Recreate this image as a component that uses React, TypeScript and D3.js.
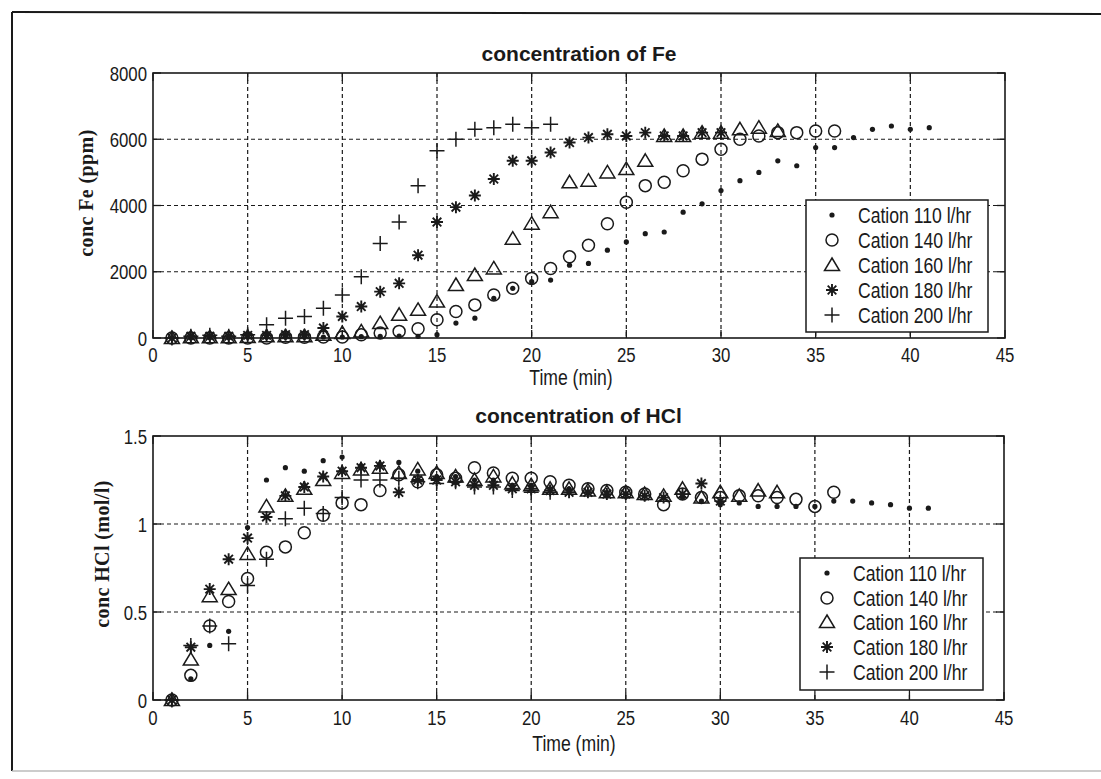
import React from 'react';
import * as d3 from 'd3';

const timeMin = [1, 2, 3, 4, 5, 6, 7, 8, 9, 10, 11, 12, 13, 14, 15, 16, 17, 18, 19, 20, 21, 22, 23, 24, 25, 26, 27, 28, 29, 30, 31, 32, 33, 34, 35, 36, 37, 38, 39, 40, 41];

const seriesNames = ['Cation 110 l/hr', 'Cation 140 l/hr', 'Cation 160 l/hr', 'Cation 180 l/hr', 'Cation 200 l/hr'];
const seriesMarkers = ['dot', 'circle', 'triangle', 'star', 'plus'];

// concentration of Fe (ppm)
const fe110 = [0, 0, 10, 10, 20, 20, 20, 20, 30, 30, 40, 50, 60, 50, 100, 450, 600, 1200, 1500, 1700, 1750, 2200, 2250, 2650, 2900, 3150, 3200, 3800, 4050, 4450, 4750, 5000, 5350, 5200, 5750, 5750, 6050, 6300, 6400, 6300, 6350];
const fe140 = [0, 0, 0, 0, 0, 0, 20, 20, 30, 30, 100, 150, 200, 280, 550, 800, 1000, 1300, 1500, 1800, 2100, 2450, 2800, 3450, 4100, 4600, 4700, 5050, 5400, 5700, 6000, 6100, 6200, 6200, 6250, 6250];
const fe160 = [0, 20, 20, 20, 30, 50, 50, 50, 100, 150, 200, 450, 700, 850, 1100, 1600, 1900, 2100, 3000, 3450, 3800, 4700, 4750, 5000, 5100, 5350, 6100, 6100, 6200, 6200, 6300, 6350, 6250];
const fe180 = [0, 50, 50, 50, 80, 80, 100, 100, 300, 650, 950, 1400, 1650, 2500, 3500, 3950, 4300, 4800, 5350, 5350, 5600, 5900, 6050, 6150, 6100, 6200, 6100, 6100, 6200, 6200];
const fe200 = [0, 50, 80, 50, 100, 400, 600, 650, 900, 1300, 1850, 2850, 3500, 4600, 5650, 6000, 6300, 6350, 6450, 6350, 6450];

// concentration of HCl (mol/l)
const hcl110 = [0, 0.12, 0.31, 0.39, 0.98, 1.25, 1.32, 1.30, 1.36, 1.38, 1.33, 1.33, 1.35, 1.30, 1.27, 1.27, 1.25, 1.25, 1.22, 1.22, 1.20, 1.20, 1.18, 1.18, 1.17, 1.16, 1.15, 1.15, 1.13, 1.11, 1.12, 1.10, 1.10, 1.10, 1.10, 1.13, 1.13, 1.12, 1.11, 1.09, 1.09];
const hcl140 = [0, 0.14, 0.42, 0.56, 0.69, 0.84, 0.87, 0.95, 1.05, 1.12, 1.11, 1.19, 1.28, 1.24, 1.28, 1.26, 1.32, 1.29, 1.26, 1.26, 1.24, 1.22, 1.20, 1.19, 1.18, 1.17, 1.11, 1.17, 1.15, 1.15, 1.16, 1.16, 1.15, 1.14, 1.10, 1.18];
const hcl160 = [0, 0.23, 0.59, 0.63, 0.83, 1.10, 1.16, 1.20, 1.25, 1.29, 1.31, 1.32, 1.29, 1.31, 1.29, 1.27, 1.25, 1.27, 1.23, 1.22, 1.20, 1.20, 1.19, 1.18, 1.18, 1.17, 1.16, 1.20, 1.15, 1.18, 1.16, 1.19, 1.18];
const hcl180 = [0, 0.30, 0.63, 0.80, 0.92, 1.04, 1.16, 1.21, 1.27, 1.30, 1.32, 1.33, 1.18, 1.25, 1.25, 1.24, 1.22, 1.22, 1.20, 1.20, 1.19, 1.18, 1.18, 1.17, 1.17, 1.16, 1.15, 1.17, 1.23, 1.13];
const hcl200 = [0, 0.31, 0.42, 0.32, 0.65, 0.80, 1.03, 1.09, 1.06, 1.15, 1.25, 1.25, 1.26, 1.24, 1.23, 1.24, 1.21, 1.21, 1.19, 1.18, 1.18];

const xTicks = [0, 5, 10, 15, 20, 25, 30, 35, 40, 45];
const feTicks = [0, 2000, 4000, 6000, 8000];
const hclTicks = [0, 0.5, 1, 1.5];

const INK = '#1a1a1a';
const SANS = '"Liberation Sans", Arial, sans-serif';
const NARROW = 0.8;

function NText({ x, y, anchor = 'start', size = 21, dy = '0', children }: { x: number; y: number; anchor?: string; size?: number; dy?: string; children: React.ReactNode }) {
  return (
    <text transform={`translate(${x},${y}) scale(${NARROW},1)`} dy={dy} textAnchor={anchor} fontFamily={SANS} fontSize={size} fill={INK}>
      {children}
    </text>
  );
}

function Marker({ kind, x, y }: { kind: string; x: number; y: number }) {
  const sw = 1.5;
  if (kind === 'dot') return <circle cx={x} cy={y} r={2.6} fill={INK} />;
  if (kind === 'circle') return <circle cx={x} cy={y} r={6} fill="none" stroke={INK} strokeWidth={sw} />;
  if (kind === 'triangle') {
    const p = `M${x},${y - 7} L${x + 7.5},${y + 5.5} L${x - 7.5},${y + 5.5} Z`;
    return <path d={p} fill="none" stroke={INK} strokeWidth={sw} strokeLinejoin="miter" />;
  }
  if (kind === 'star') {
    const s = 6, d = 4.3;
    return (
      <path
        d={`M${x - s},${y} L${x + s},${y} M${x},${y - s} L${x},${y + s} M${x - d},${y - d} L${x + d},${y + d} M${x - d},${y + d} L${x + d},${y - d}`}
        stroke={INK}
        strokeWidth={1.9}
      />
    );
  }
  const s = 7.5;
  return <path d={`M${x - s},${y} L${x + s},${y} M${x},${y - s} L${x},${y + s}`} stroke={INK} strokeWidth={sw} />;
}

type PanelProps = {
  left: number; right: number; top: number; bottom: number;
  yDomain: [number, number]; yTicks: number[]; yFmt: (v: number) => string;
  title: string; titleY: number; yLabel: string; yLabelX: number; yLabelY: number;
  xLabelX: number; xLabelY: number; xTickY: number;
  series: number[][];
  legend: { x: number; y: number; w: number; h: number; markerX: number; textX: number; rows: number[] };
};

function Panel(p: PanelProps) {
  const x = d3.scaleLinear().domain([0, 45]).range([p.left, p.right]);
  const y = d3.scaleLinear().domain(p.yDomain).range([p.bottom, p.top]);
  const tl = 8;
  const cx = (p.left + p.right) / 2;
  return (
    <g>
      <text x={cx} y={p.titleY} textAnchor="middle" fontFamily={SANS} fontWeight="bold" fontSize={21} fill={INK}>{p.title}</text>
      {/* grid */}
      {xTicks.filter((t) => t > 0 && t < 45).map((t) => (
        <line key={'gx' + t} x1={x(t)} x2={x(t)} y1={p.top} y2={p.bottom} stroke={INK} strokeWidth={1.2} strokeDasharray="4,3" />
      ))}
      {p.yTicks.filter((t) => t > p.yDomain[0] && t < p.yDomain[1]).map((t) => (
        <line key={'gy' + t} x1={p.left} x2={p.right} y1={y(t)} y2={y(t)} stroke={INK} strokeWidth={1.2} strokeDasharray="4,3" />
      ))}
      {/* ticks */}
      {xTicks.map((t) => (
        <g key={'tx' + t}>
          <line x1={x(t)} x2={x(t)} y1={p.bottom} y2={p.bottom - tl} stroke={INK} strokeWidth={1.3} />
          <line x1={x(t)} x2={x(t)} y1={p.top} y2={p.top + tl} stroke={INK} strokeWidth={1.3} />
          <NText x={x(t)} y={p.xTickY} anchor="middle">{t}</NText>
        </g>
      ))}
      {p.yTicks.map((t) => (
        <g key={'ty' + t}>
          <line x1={p.left} x2={p.left + tl} y1={y(t)} y2={y(t)} stroke={INK} strokeWidth={1.3} />
          <line x1={p.right} x2={p.right - tl} y1={y(t)} y2={y(t)} stroke={INK} strokeWidth={1.3} />
          <NText x={p.left - 6} y={y(t)} dy="0.36em" anchor="end">{p.yFmt(t)}</NText>
        </g>
      ))}
      <rect x={p.left} y={p.top} width={p.right - p.left} height={p.bottom - p.top} fill="none" stroke={INK} strokeWidth={1.6} />
      {/* data */}
      {p.series.map((vals, si) => (
        <g key={'s' + si}>
          {vals.map((v, i) => (
            <Marker key={i} kind={seriesMarkers[si]} x={x(timeMin[i])} y={y(v)} />
          ))}
        </g>
      ))}
      {/* legend */}
      <rect x={p.legend.x} y={p.legend.y} width={p.legend.w} height={p.legend.h} fill="#fff" stroke={INK} strokeWidth={1.5} />
      {seriesNames.map((n, i) => (
        <g key={'l' + i}>
          <Marker kind={seriesMarkers[i]} x={p.legend.markerX} y={p.legend.rows[i]} />
          <NText x={p.legend.textX} y={p.legend.rows[i]} dy="0.36em" size={22}>{n}</NText>
        </g>
      ))}
      <NText x={p.xLabelX} y={p.xLabelY} anchor="middle" size={22}>Time (min)</NText>
      <text transform={`translate(${p.yLabelX},${p.yLabelY}) rotate(-90)`} textAnchor="middle" dy="0.35em" fontFamily='"Liberation Serif", "Times New Roman", serif' fontWeight="bold" fontSize={20} letterSpacing={0.4} fill={INK}>{p.yLabel}</text>
    </g>
  );
}

export default function App() {
  return (
    <svg width={1101} height={779} style={{ position: 'absolute', left: 0, top: 0, background: '#fff' }}>
      <rect x={0} y={0} width={1101} height={779} fill="#fff" />
      <line x1={12} y1={12} x2={1101} y2={14} stroke={INK} strokeWidth={2} />
      <line x1={12} y1={12} x2={12} y2={771} stroke={INK} strokeWidth={2} />
      <line x1={12} y1={771} x2={1101} y2={771} stroke="#bbb" strokeWidth={1.5} />
      <Panel
        left={153} right={1005} top={73} bottom={338}
        yDomain={[0, 8000]} yTicks={feTicks} yFmt={(v) => String(v)}
        title="concentration of Fe" titleY={61}
        yLabel="conc Fe (ppm)" yLabelX={86} yLabelY={193}
        xLabelX={571} xLabelY={385} xTickY={362}
        series={[fe110, fe140, fe160, fe180, fe200]}
        legend={{ x: 806, y: 200, w: 182, h: 132, markerX: 832, textX: 858, rows: [215, 240, 265, 290, 315] }}
      />
      <Panel
        left={153} right={1004} top={436} bottom={700}
        yDomain={[0, 1.5]} yTicks={hclTicks} yFmt={(v) => String(v)}
        title="concentration of HCl" titleY={423}
        yLabel="conc HCl (mol/l)" yLabelX={102} yLabelY={554}
        xLabelX={574} xLabelY={751} xTickY={725}
        series={[hcl110, hcl140, hcl160, hcl180, hcl200]}
        legend={{ x: 800, y: 558, w: 183, h: 132, markerX: 827, textX: 853, rows: [573, 598, 622, 647, 672] }}
      />
    </svg>
  );
}
